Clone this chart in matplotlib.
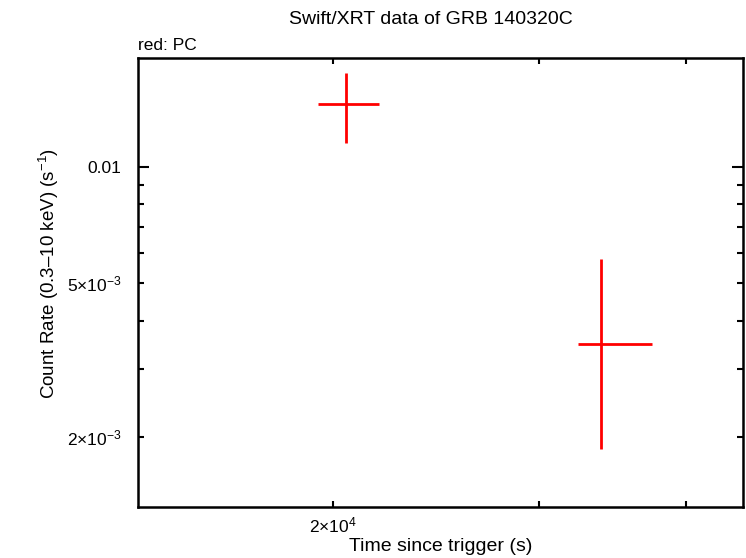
import numpy as np
import matplotlib
matplotlib.use('Agg')
import matplotlib.pyplot as plt

plt.rcParams['font.family'] = ['Liberation Sans', 'DejaVu Sans']
plt.rcParams['mathtext.fontset'] = 'custom'
plt.rcParams['mathtext.rm'] = 'Liberation Sans'
plt.rcParams['mathtext.it'] = 'Liberation Sans'

# PC mode light curve points (time in s, count rate in 1/s)
t = np.array([20514, 33856])
t_lo = np.array([19420, 32360])
t_hi = np.array([21894, 37420])
rate = np.array([0.01456, 3.481e-3])
rate_lo = np.array([0.01154, 1.862e-3])
rate_hi = np.array([0.01751, 5.777e-3])

x_ticks = [2e4, 3e4, 4e4]
x_labels = [r'2$\times$10$^{4}$', '', '']
y_minor = [2e-3, 3e-3, 4e-3, 5e-3, 6e-3, 7e-3, 8e-3, 9e-3]
y_minor_labels = [r'2$\times$10$^{-3}$', '', '', r'5$\times$10$^{-3}$', '', '', '', '']

fig = plt.figure(figsize=(7.46, 5.58), dpi=100)
ax = fig.add_axes([0.185, 0.0914, 0.8106, 0.8046])

ax.errorbar(t, rate, xerr=[t - t_lo, t_hi - t], yerr=[rate - rate_lo, rate_hi - rate],
            fmt='none', ecolor='#ff0000', elinewidth=2.0, capsize=0)

ax.set_xscale('log')
ax.set_yscale('log')
ax.set_xlim(13638, 44728)
ax.set_ylim(1.317e-3, 0.01916)

ax.set_xticks([])
ax.set_xticks(x_ticks, minor=True)
ax.set_xticklabels(x_labels, minor=True)
ax.set_yticks([0.01])
ax.set_yticklabels(['0.01'])
ax.set_yticks(y_minor, minor=True)
ax.set_yticklabels(y_minor_labels, minor=True)

ax.tick_params(which='both', direction='in', top=True, right=True,
               labelsize=12.5, width=1.5)
ax.tick_params(axis='y', which='both', pad=12)
ax.tick_params(axis='x', which='both', pad=6)
ax.tick_params(which='major', length=8)
ax.tick_params(which='minor', length=4.5)
for s in ax.spines.values():
    s.set_linewidth(1.8)

ax.set_xlabel('Time since trigger (s)', fontsize=14, labelpad=2)
ax.set_ylabel('Count Rate (0.3\u201310 keV) (s$^{-1}$)', fontsize=13.5)
ax.yaxis.set_label_coords(-0.127, 0.521)
fig.text(0.577, 0.965, 'Swift/XRT data of GRB 140320C', ha='center', va='center', fontsize=14)
ax.text(0.0, 1.012, 'red: PC', transform=ax.transAxes, ha='left', va='bottom', fontsize=12.5)

fig.savefig('out.png', dpi=100)
